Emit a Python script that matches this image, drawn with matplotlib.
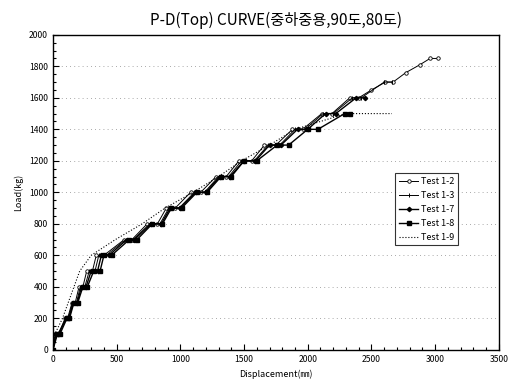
import numpy as np
import matplotlib.pyplot as plt
from matplotlib.ticker import MultipleLocator

plt.rcParams['font.family'] = ['Noto Sans CJK KR', 'DejaVu Sans']

# 하중 단계별 변위 (kg / mm)
load_12 = [0, 100, 100, 200, 200, 300, 300, 400, 400, 500, 500, 600, 600, 700, 700, 800, 800,
           900, 900, 1000, 1000, 1100, 1100, 1200, 1200, 1300, 1300, 1400, 1400, 1500, 1500,
           1600, 1600, 1650, 1700, 1700, 1760, 1810, 1850, 1850]
disp_12 = [0, 25, 45, 95, 115, 150, 175, 205, 235, 265, 310, 340, 400, 560, 620, 740, 820,
           890, 960, 1080, 1160, 1280, 1360, 1460, 1560, 1660, 1750, 1880, 1960, 2110, 2190,
           2330, 2400, 2500, 2610, 2670, 2770, 2880, 2960, 3020]

load_13 = [0, 100, 100, 200, 200, 300, 300, 400, 400, 500, 500, 600, 600, 700, 700, 800, 800,
           900, 900, 1000, 1000, 1100, 1100, 1200, 1200, 1300, 1300, 1400, 1400, 1500, 1500,
           1600, 1600, 1700, 1700]
disp_13 = [0, 30, 50, 100, 120, 155, 185, 215, 250, 285, 330, 360, 420, 570, 630, 760, 840,
           910, 990, 1110, 1190, 1300, 1380, 1480, 1580, 1690, 1780, 1900, 1980, 2120, 2200,
           2350, 2420, 2600, 2660]

load_17 = [0, 100, 100, 200, 200, 300, 300, 400, 400, 500, 500, 600, 600, 700, 700, 800, 800,
           900, 900, 1000, 1000, 1100, 1100, 1200, 1200, 1300, 1300, 1400, 1400, 1500, 1500,
           1600, 1600]
disp_17 = [0, 20, 40, 105, 125, 160, 190, 225, 260, 300, 350, 380, 440, 580, 640, 770, 850,
           920, 1000, 1120, 1200, 1310, 1390, 1500, 1590, 1700, 1790, 1920, 2000, 2140, 2220,
           2380, 2450]

load_18 = [0, 100, 100, 200, 200, 300, 300, 400, 400, 500, 500, 600, 600, 700, 700, 800, 800,
           900, 900, 1000, 1000, 1100, 1100, 1200, 1200, 1300, 1300, 1400, 1400, 1500, 1500]
disp_18 = [0, 35, 55, 110, 130, 165, 195, 235, 270, 320, 370, 400, 460, 600, 660, 780, 860,
           930, 1010, 1130, 1210, 1320, 1400, 1500, 1600, 1760, 1850, 2000, 2080, 2290, 2330]

load_19 = [0, 100, 200, 300, 400, 500, 600, 700, 800, 900, 1000, 1100, 1200, 1300, 1400,
           1500, 1500]
disp_19 = [0, 15, 75, 120, 165, 210, 300, 490, 700, 880, 1100, 1300, 1480, 1700, 1900,
           2300, 2660]

fig = plt.figure(figsize=(5.09, 3.87), dpi=100)
ax = fig.add_axes([0.104, 0.096, 0.876, 0.814])

ax.plot(disp_12, load_12, '-o', color='black', lw=0.7, ms=2.5, mfc='white', mew=0.6, label='Test 1-2')
ax.plot(disp_13, load_13, '-', marker='|', color='black', lw=0.7, ms=3, mew=0.7, label='Test 1-3')
ax.plot(disp_17, load_17, '-D', color='black', lw=1.0, ms=2.2, label='Test 1-7')
ax.plot(disp_18, load_18, '-s', color='black', lw=1.0, ms=2.5, label='Test 1-8')
ax.plot(disp_19, load_19, ':', color='black', lw=0.8, label='Test 1-9')

ax.set_xlim(0, 3500)
ax.set_ylim(0, 2000)
ax.xaxis.set_major_locator(MultipleLocator(500))
ax.xaxis.set_minor_locator(MultipleLocator(100))
ax.yaxis.set_major_locator(MultipleLocator(200))
ax.yaxis.set_minor_locator(MultipleLocator(50))
ax.tick_params(which='both', direction='in', labelsize=6.2, width=0.8)
ax.tick_params(which='major', length=4)
ax.tick_params(which='minor', length=2)
ax.yaxis.grid(True, linestyle=(0, (1, 4)), color='0.55', lw=0.6)
for s in ax.spines.values():
    s.set_linewidth(1.0)

ax.set_title('P-D(Top) CURVE(중하중용,90도,80도)', fontsize=11, pad=7)
ax.set_xlabel('Displacement(㎜)', fontsize=6.5)
ax.set_ylabel('Load(kg)', fontsize=6.5)

leg = ax.legend(loc='upper left', bbox_to_anchor=(0.757, 0.575), fontsize=6.5,
                frameon=True, fancybox=False, edgecolor='black', handlelength=2.2,
                borderpad=0.4, labelspacing=0.55, handletextpad=0.3)
leg.get_frame().set_linewidth(0.8)

fig.savefig('out.png', dpi=100)
